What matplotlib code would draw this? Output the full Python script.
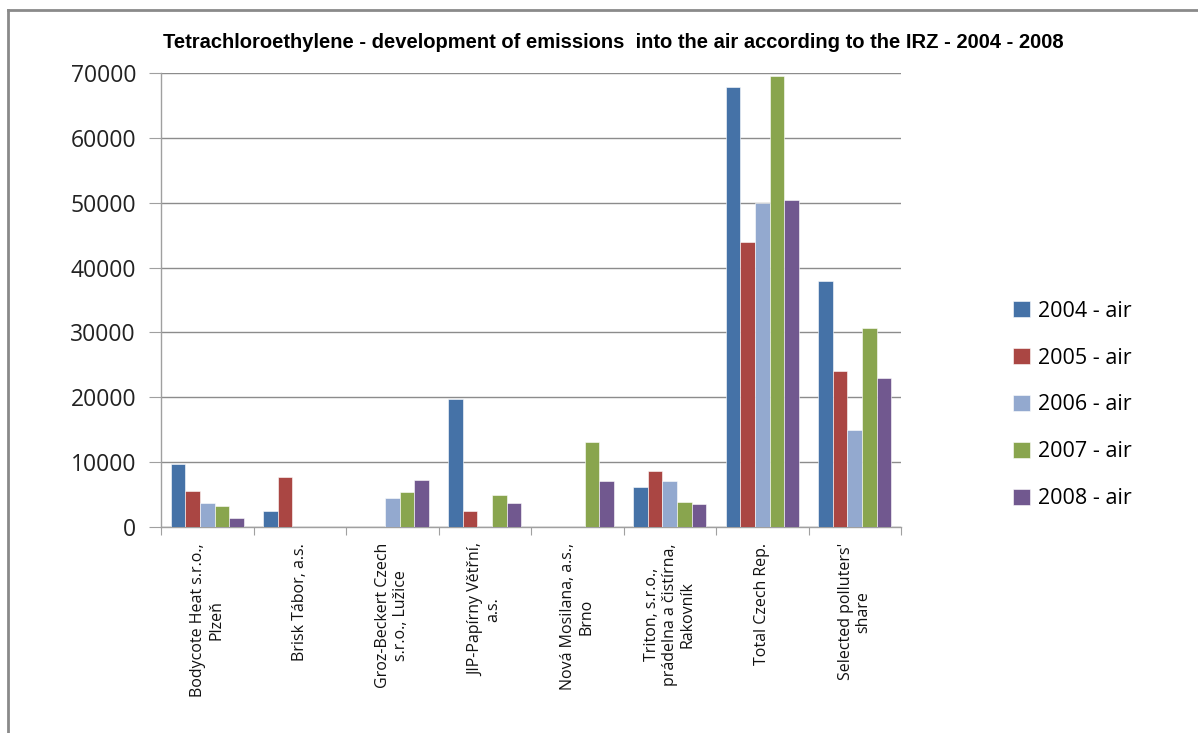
import numpy as np
import matplotlib
matplotlib.use("Agg")
import matplotlib.pyplot as plt
from matplotlib.lines import Line2D

categories = [
    "Bodycote Heat s.r.o.,\nPlzeň",
    "Brisk Tábor, a.s.",
    "Groz-Beckert Czech\ns.r.o., Lužice",
    "JIP-Papírny Větřní,\na.s.",
    "Nová Mosilana, a.s.,\nBrno",
    "Triton, s.r.o.,\nprádelna a čistírna,\nRakovník",
    "Total Czech Rep.",
    "Selected polluters'\nshare",
]
series_names = ["2004 - air", "2005 - air", "2006 - air", "2007 - air", "2008 - air"]

air_2004 = [9700, 2500, 0, 19700, 0, 6100, 67900, 37900]
air_2005 = [5550, 7650, 0, 2500, 0, 8600, 43900, 24100]
air_2006 = [3650, 0, 4400, 0, 0, 7100, 50000, 15000]
air_2007 = [3300, 0, 5350, 5000, 13100, 3850, 69500, 30700]
air_2008 = [1400, 0, 7250, 3650, 7100, 3500, 50400, 22950]

colors = ["#4572A7", "#AA4643", "#93A9CF", "#89A54E", "#71588F"]
yticks = [0, 10000, 20000, 30000, 40000, 50000, 60000, 70000]

plt.rcParams['font.family'] = ['Open Sans', 'DejaVu Sans']

fig = plt.figure(figsize=(11.98, 7.33), dpi=100)
W, H = 1198, 733
ax = fig.add_axes([161 / W, 1 - 527 / H, (901 - 161) / W, (527 - 73) / H])

all_series = [air_2004, air_2005, air_2006, air_2007, air_2008]
x = np.arange(len(categories))
bw = 0.157
for i, (vals, name) in enumerate(zip(all_series, series_names)):
    offs = (i - 2) * bw
    ax.bar(x + offs, vals, width=bw, color=colors[i], label=name,
           edgecolor="white", linewidth=0.4, zorder=3)

ax.set_xlim(-0.5, len(categories) - 0.5)
ax.set_ylim(0, 70000)
ax.set_yticks(yticks)
ax.set_yticklabels([str(v) for v in yticks], fontsize=16.5, color="#222222")
ax.yaxis.grid(True, color="#8c8c8c", linewidth=1.0, zorder=0)

# category labels at centers, tick marks at boundaries
ax.set_xticks(np.arange(-0.5, len(categories), 1.0))
ax.set_xticklabels([])
ax.tick_params(axis="x", length=6, color="#a0a0a0", direction="out")
ax.tick_params(axis="y", length=9, color="#a0a0a0", direction="out", pad=9)
for xi, lab in zip(x, categories):
    ax.text(xi, -2500, lab, rotation=90, ha="center", va="top",
            multialignment="center", fontsize=11.5, color="#111111",
            linespacing=1.15)

for s in ["top", "right"]:
    ax.spines[s].set_visible(False)
for s in ["left", "bottom"]:
    ax.spines[s].set_color("#a0a0a0")
    ax.spines[s].set_linewidth(1.0)

fig.text(613 / W, 1 - 43 / H,
         "Tetrachloroethylene - development of emissions  into the air according to the IRZ - 2004 - 2008",
         ha="center", va="center", fontsize=14.5, fontweight="bold",
         family=["Liberation Sans Narrow", "Liberation Sans", "DejaVu Sans"])

leg = fig.legend(loc="center left", bbox_to_anchor=(994 / W, 1 - 405 / H),
                 frameon=False, fontsize=15.5, handlelength=0.75, handleheight=0.75,
                 handletextpad=0.4, labelspacing=1.2)

# outer chart frame
fig.add_artist(Line2D([8 / W, 8 / W], [0, 1 - 10 / H], color="#8a8a8a", linewidth=2,
                      transform=fig.transFigure))
fig.add_artist(Line2D([8 / W, 1], [1 - 10 / H, 1 - 10 / H], color="#8a8a8a", linewidth=2,
                      transform=fig.transFigure))

fig.savefig("out.png", dpi=100)
